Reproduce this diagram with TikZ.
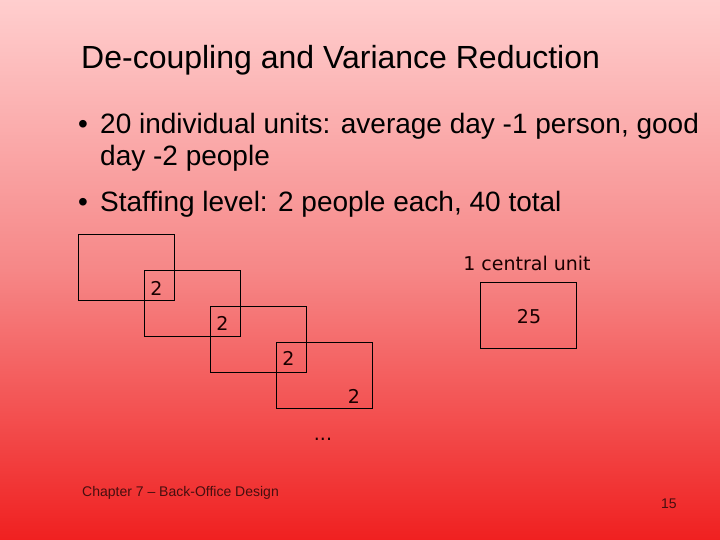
\documentclass[tikz,border=0pt]{standalone}
\usepackage{fontspec}
\setmainfont{Liberation Sans}
\newfontfamily\labfont{DejaVu Sans}
\definecolor{bgtop}{RGB}{255,206,206}
\definecolor{bgmid}{RGB}{246,135,135}
\definecolor{bgbot}{RGB}{240,32,32}
\definecolor{foot}{RGB}{70,15,15}
\begin{document}
\begin{tikzpicture}[x=1bp,y=-1bp,
  txt/.style={anchor=base west,inner sep=0pt,text=black},
  unitbox/.style={draw=black,line width=0.9bp,minimum width=96bp,minimum height=66bp,inner sep=0pt,anchor=north west},
  lab/.style={inner sep=0pt,font=\labfont\fontsize{19bp}{22bp}\selectfont,text=black!90!red}]
\useasboundingbox (0,0) rectangle (720,540);
\shade[top color=bgtop,bottom color=bgbot,middle color=bgmid] (0,0) rectangle (720,540);
% title
\node[txt,font=\fontsize{32bp}{38bp}\selectfont] (title) at (81,69) {De-coupling and Variance Reduction};
% bullets
\node[txt,font=\fontsize{28bp}{32bp}\selectfont] (b1) at (78,134) {•};
\node[txt,font=\fontsize{28bp}{32bp}\selectfont] (t1) at (100,134) {20 individual units: average day -1 person, good};
\node[txt,font=\fontsize{28bp}{32bp}\selectfont] (t1b) at (100,166) {day -2 people};
\node[txt,font=\fontsize{28bp}{32bp}\selectfont] (b2) at (78,212) {•};
\node[txt,font=\fontsize{28bp}{32bp}\selectfont] (t2) at (100,212) {Staffing level: 2 people each, 40 total};
% boxes
\node[unitbox] (u1) at (78,234) {};
\node[unitbox] (u2) at (144,270) {};
\node[unitbox] (u3) at (210,306) {};
\node[unitbox] (u4) at (276,342) {};
\node[unitbox] (c) at (480,282) {};
% labels
\node[lab] (l2) at (156.5,288) {2};
\node[lab] (l3) at (222.5,323) {2};
\node[lab] (l4) at (288.5,358) {2};
\node[lab] (l5) at (354,396) {2};
\node[lab,anchor=base] (dots) at (323,440) {...};
\node[lab] (l25) at (529,317) {25};
\node[lab,anchor=base] (cu) at (527,271) {1 central unit};
% footer
\node[txt,font=\fontsize{14bp}{16bp}\selectfont,text=foot] (ft) at (82,496) {Chapter 7 – Back-Office Design};
\node[txt,font=\fontsize{14bp}{16bp}\selectfont,text=foot] (pg) at (661,508) {15};
\end{tikzpicture}
\end{document}
